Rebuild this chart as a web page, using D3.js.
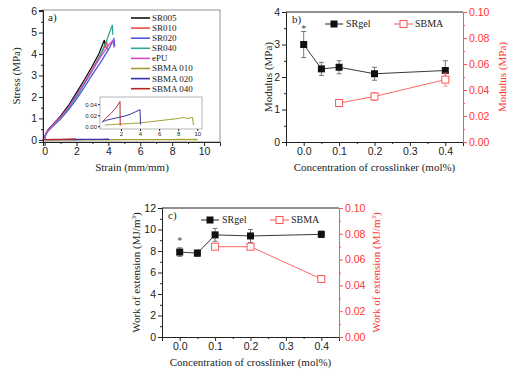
<!DOCTYPE html>
<head>
    <title>Crosslinker figure</title>
    <script src="https://cdnjs.cloudflare.com/ajax/libs/d3/7.8.5/d3.min.js"></script>
    <style>
        body { margin: 0; background: #fff; }
        svg { font-family: "Liberation Serif", "Times New Roman", serif; }
        .axis text { font-size: 10.5px; fill: #222; }
        .axis path, .axis line { stroke: #222; }
        .axis.red text { fill: #f33; }
        .axis.red path, .axis.red line { stroke: #f55; }
        .inset text { font-size: 6px; }
        .title { font-size: 11px; fill: #222; }
    </style>
</head>
<body>
<div id="chart"></div>
<script type="text/javascript">
    // ---- panel a: stress-strain curves, [strain, stress]
    const curveNames = ["SR005", "SR010", "SR020", "SR040", "ePU", "SBMA 010", "SBMA 020", "SBMA 040"];
    const curveColors = ["#111111", "#f04848", "#4a5ad8", "#2fa898", "#d048c8", "#a0a030", "#3434a8", "#b82828"];
    const sr005 = [[0,0],[0.05,0.25],[0.2,0.45],[0.5,0.7],[1,1.1],[1.5,1.6],[2,2.2],[2.5,2.8],[3,3.45],[3.4,4.0],[3.75,4.65],[3.8,4.3]];
    const sr010 = [[0,0],[0.05,0.22],[0.2,0.42],[0.5,0.66],[1,1.03],[1.5,1.5],[2,2.05],[2.5,2.65],[3,3.3],[3.5,3.95],[3.9,4.55],[3.95,4.2]];
    const sr020 = [[0,0],[0.05,0.2],[0.2,0.4],[0.5,0.62],[1,0.97],[1.5,1.4],[2,1.9],[2.5,2.45],[3,3.05],[3.5,3.6],[4,4.2],[4.35,4.7],[4.4,4.35]];
    const sr040 = [[0,0],[0.05,0.21],[0.2,0.41],[0.5,0.64],[1,1.0],[1.5,1.45],[2,2.0],[2.5,2.6],[3,3.25],[3.5,3.95],[3.9,4.65],[4.25,5.35],[4.28,4.9]];
    const ePU   = [[0,0],[0.05,0.23],[0.2,0.43],[0.5,0.67],[1,1.05],[1.5,1.52],[2,2.08],[2.5,2.65],[3,3.25],[3.5,3.85],[4,4.4],[4.3,4.65],[4.35,4.3]];
    const sbma010 = [[0,0],[0.3,0.002],[1,0.003],[2,0.004],[3,0.005],[4,0.006],[5,0.008],[6,0.010],[7,0.012],[8,0.014],[8.6,0.016],[8.9,0.014],[9.5,0.016],[9.6,0.002]];
    const sbma020 = [[0,0],[0.05,0.007],[0.2,0.009],[0.5,0.011],[1,0.013],[1.5,0.015],[2,0.017],[2.5,0.019],[3,0.022],[3.5,0.026],[4,0.030],[4.05,0.003]];
    const sbma040 = [[0,0],[0.05,0.008],[0.2,0.011],[0.5,0.016],[1,0.024],[1.5,0.034],[1.9,0.045],[1.92,0.001]];
    const curves = [sr005, sr010, sr020, sr040, ePU, sbma010, sbma020, sbma040];

    // ---- panels b and c
    const conc = [0, 0.05, 0.1, 0.2, 0.4];
    const concSBMA = [0.1, 0.2, 0.4];
    const modulusSR = [3.0, 2.25, 2.3, 2.1, 2.2];
    const modulusSRErr = [0.4, 0.2, 0.2, 0.2, 0.3];
    const modulusSBMA = [0.030, 0.035, 0.048];
    const modulusSBMAErr = [0.001, 0.003, 0.005];
    const workSR = [7.9, 7.8, 9.5, 9.4, 9.55];
    const workSRErr = [0.4, 0.3, 0.6, 0.6, 0.3];
    const workSBMA = [0.070, 0.070, 0.045];
    const workSBMAErr = [0.001, 0.002, 0.001];

    // tick labels
    const strainTicks = [0, 2, 4, 6, 8, 10];
    const stressTicks = [0, 1, 2, 3, 4, 5, 6];
    const insetXTicks = [2, 4, 6, 8, 10];
    const insetYTicks = [0, 0.02, 0.04];
    const concTicks = [0, 0.1, 0.2, 0.3, 0.4];
    const modulusTicks = [0, 1, 2, 3, 4];
    const workTicks = [0, 2, 4, 6, 8, 10, 12];
    const rightTicks = [0, 0.02, 0.04, 0.06, 0.08, 0.10];

    const red = "#f55";
    const svg = d3.select("#chart").append("svg")
        .attr("width", 516)
        .attr("height", 374);

    function axisPair(g, axisFn, scale, major, minor, fmt, size, cls, tr) {
        const a = g.append("g").attr("class", "axis " + cls).attr("transform", tr)
            .call(axisFn(scale).tickValues(major).tickSize(size).tickPadding(2).tickFormat(fmt));
        g.append("g").attr("class", "axis " + cls).attr("transform", tr)
            .call(axisFn(scale).tickValues(minor).tickSize(size / 2).tickFormat(""))
            .select(".domain").remove();
        return a;
    }

    // ================= panel a =================
    const ax = d3.scaleLinear().domain([-0.1, 11]).range([43, 220]);
    const ay = d3.scaleLinear().domain([-0.1, 6.05]).range([142, 10]);
    const ga = svg.append("g");
    const line = (xs, ys) => d3.line().x(d => xs(d[0])).y(d => ys(d[1]));

    ga.append("rect").attr("x", 43).attr("y", 10).attr("width", 177).attr("height", 132)
        .attr("fill", "none").attr("stroke", "#777").attr("stroke-width", 0.8);
    axisPair(ga, d3.axisBottom, ax, strainTicks, d3.range(1, 11, 2), d3.format("d"), 4, "", "translate(0,142)");
    axisPair(ga, d3.axisLeft, ay, stressTicks, d3.range(0.5, 6, 1), d3.format("d"), 4, "", "translate(43,0)");

    ga.selectAll("path.curve").data(curves).enter().append("path")
        .attr("class", "curve")
        .attr("d", d => line(ax, ay)(d))
        .attr("fill", "none")
        .attr("stroke", (d, i) => curveColors[i])
        .attr("stroke-width", 1.3);

    ga.append("text").attr("x", 48).attr("y", 21).attr("class", "title").text("a)");
    ga.append("text").attr("class", "title").attr("transform", "translate(20,76) rotate(-90)")
        .attr("text-anchor", "middle").text("Stress (MPa)");
    ga.append("text").attr("class", "title").attr("x", 132).attr("y", 171)
        .attr("text-anchor", "middle").text("Strain (mm/mm)");

    const legA = ga.selectAll("g.leg").data(curveNames).enter().append("g")
        .attr("transform", (d, i) => "translate(131," + (18 + i * 10.1) + ")");
    legA.append("line").attr("x1", 0).attr("x2", 19)
        .attr("stroke", (d, i) => curveColors[i]).attr("stroke-width", 1.6);
    legA.append("text").attr("x", 21).attr("dy", "0.33em")
        .style("font-size", "9px").attr("fill", "#222").text(d => d);

    // inset
    const ix = d3.scaleLinear().domain([-0.2, 10.5]).range([100, 202]);
    const iy = d3.scaleLinear().domain([-0.005, 0.053]).range([129, 97]);
    const gi = ga.append("g").attr("class", "inset");
    gi.append("rect").attr("x", 100).attr("y", 97).attr("width", 102).attr("height", 32)
        .attr("fill", "#fff").attr("stroke", "#999").attr("stroke-width", 0.7);
    svg.append("clipPath").attr("id", "insetclip").append("rect")
        .attr("x", 100).attr("y", 97).attr("width", 102).attr("height", 32);
    gi.append("g").attr("class", "axis inset").attr("transform", "translate(0,129)")
        .call(d3.axisBottom(ix).tickValues(insetXTicks).tickSize(2).tickPadding(1).tickFormat(d3.format("d")))
        .call(g => g.select(".domain").remove());
    gi.append("g").attr("class", "axis inset").attr("transform", "translate(100,0)")
        .call(d3.axisLeft(iy).tickValues(insetYTicks).tickSize(2).tickPadding(1).tickFormat(d3.format(".2f")))
        .call(g => g.select(".domain").remove());
    gi.selectAll("path.ic").data(curves.slice(5)).enter().append("path")
        .attr("class", "ic")
        .attr("clip-path", "url(#insetclip)")
        .attr("d", d => line(ix, iy)(d.slice(1)))
        .attr("fill", "none")
        .attr("stroke", (d, i) => curveColors[i + 5])
        .attr("stroke-width", 1);
    gi.selectAll(".axis text").style("font-size", "6px");

    // ================= panels b, c =================
    function dualPanel(opt) {
        const g = svg.append("g");
        const x = d3.scaleLinear().domain([-0.05, 0.45]).range([opt.x0, opt.x1]);
        const yl = d3.scaleLinear().domain(opt.leftDomain).range([opt.y1, opt.y0]);
        const yr = d3.scaleLinear().domain([0, 0.1]).range([opt.y1, opt.y0]);

        g.append("line").attr("x1", opt.x0).attr("x2", opt.x1).attr("y1", opt.y0).attr("y2", opt.y0)
            .attr("stroke", "#222");
        axisPair(g, d3.axisBottom, x, concTicks, [-0.05, 0.05, 0.15, 0.25, 0.35, 0.45], d3.format(".1f"), 4, "", "translate(0," + opt.y1 + ")");
        axisPair(g, d3.axisLeft, yl, opt.leftTicks, opt.leftMinor, d3.format("d"), 4, "", "translate(" + opt.x0 + ",0)");
        axisPair(g, d3.axisRight, yr, rightTicks, d3.range(0.01, 0.1, 0.02), d3.format(".2f"), 4, "red", "translate(" + opt.x1 + ",0)");

        // SRgel
        const sr = conc.map((c, i) => [c, opt.sr[i], opt.srErr[i]]);
        g.append("path").datum(sr)
            .attr("d", d3.line().x(d => x(d[0])).y(d => yl(d[1])))
            .attr("fill", "none").attr("stroke", "#222").attr("stroke-width", 0.9);
        const eb = g.selectAll("g.eb").data(sr).enter().append("g").attr("stroke", "#555").attr("stroke-width", 0.8);
        eb.append("line").attr("x1", d => x(d[0])).attr("x2", d => x(d[0]))
            .attr("y1", d => yl(d[1] - d[2])).attr("y2", d => yl(d[1] + d[2]));
        eb.append("line").attr("x1", d => x(d[0]) - 2.5).attr("x2", d => x(d[0]) + 2.5)
            .attr("y1", d => yl(d[1] + d[2])).attr("y2", d => yl(d[1] + d[2]));
        eb.append("line").attr("x1", d => x(d[0]) - 2.5).attr("x2", d => x(d[0]) + 2.5)
            .attr("y1", d => yl(d[1] - d[2])).attr("y2", d => yl(d[1] - d[2]));
        g.selectAll("rect.sr").data(sr).enter().append("rect")
            .attr("x", d => x(d[0]) - 3.5).attr("y", d => yl(d[1]) - 3.5)
            .attr("width", 7).attr("height", 7).attr("fill", "#111");

        // SBMA
        const sb = concSBMA.map((c, i) => [c, opt.sb[i], opt.sbErr[i]]);
        g.append("path").datum(sb)
            .attr("d", d3.line().x(d => x(d[0])).y(d => yr(d[1])))
            .attr("fill", "none").attr("stroke", red).attr("stroke-width", 0.9);
        const es = g.selectAll("g.es").data(sb).enter().append("g").attr("stroke", "#f77").attr("stroke-width", 0.8);
        es.append("line").attr("x1", d => x(d[0])).attr("x2", d => x(d[0]))
            .attr("y1", d => yr(d[1] - d[2])).attr("y2", d => yr(d[1] + d[2]));
        es.append("line").attr("x1", d => x(d[0]) - 2.5).attr("x2", d => x(d[0]) + 2.5)
            .attr("y1", d => yr(d[1] + d[2])).attr("y2", d => yr(d[1] + d[2]));
        es.append("line").attr("x1", d => x(d[0]) - 2.5).attr("x2", d => x(d[0]) + 2.5)
            .attr("y1", d => yr(d[1] - d[2])).attr("y2", d => yr(d[1] - d[2]));
        g.selectAll("rect.sb").data(sb).enter().append("rect")
            .attr("x", d => x(d[0]) - 3.5).attr("y", d => yr(d[1]) - 3.5)
            .attr("width", 7).attr("height", 7).attr("fill", "#fff").attr("stroke", red);

        // asterisk
        g.append("text").attr("x", x(0)).attr("y", yl(opt.star) + 4).attr("text-anchor", "middle")
            .style("font-size", "10px").attr("fill", "#444").text("*");

        // legend
        const lg = g.append("g").attr("transform", "translate(" + (opt.x0 + 39) + "," + (opt.y0 + 12) + ")");
        lg.append("line").attr("x1", 0).attr("x2", 18).attr("stroke", "#222");
        lg.append("rect").attr("x", 5.5).attr("y", -3.5).attr("width", 7).attr("height", 7).attr("fill", "#111");
        lg.append("text").attr("x", 21).attr("dy", "0.33em").attr("class", "title").style("font-size", "10px").text("SRgel");
        lg.append("line").attr("x1", 69).attr("x2", 88).attr("stroke", red);
        lg.append("rect").attr("x", 75).attr("y", -3.5).attr("width", 7).attr("height", 7).attr("fill", "#fff").attr("stroke", red);
        lg.append("text").attr("x", 90).attr("dy", "0.33em").attr("class", "title").style("font-size", "10px").text("SBMA");

        g.append("text").attr("class", "title").attr("x", opt.x0 + 6).attr("y", opt.y0 + 11).text(opt.tag);
        g.append("text").attr("class", "title").attr("x", (opt.x0 + opt.x1) / 2).attr("y", opt.y1 + 29)
            .attr("text-anchor", "middle").text("Concentration of crosslinker (mol%)");
        g.append("text").attr("class", "title")
            .attr("transform", "translate(" + opt.leftTitleX + "," + (opt.y0 + opt.y1) / 2 + ") rotate(-90)")
            .attr("text-anchor", "middle").html(opt.leftTitle);
        g.append("text").attr("class", "title").attr("fill", "#f33").style("fill", "#f33")
            .attr("transform", "translate(" + opt.rightTitleX + "," + (opt.y0 + opt.y1) / 2 + ") rotate(-90)")
            .attr("text-anchor", "middle").html(opt.rightTitle);
    }

    dualPanel({
        x0: 286, x1: 463, y0: 12, y1: 142, tag: "b)",
        leftDomain: [0, 4], leftTicks: modulusTicks, leftMinor: d3.range(0.5, 4, 1),
        sr: modulusSR, srErr: modulusSRErr, sb: modulusSBMA, sbErr: modulusSBMAErr, star: 3.5,
        leftTitleX: 272, rightTitleX: 506,
        leftTitle: "Modulus (MPa)", rightTitle: "Modulus (MPa)"
    });
    dualPanel({
        x0: 162, x1: 339, y0: 208, y1: 337, tag: "c)",
        leftDomain: [0, 12], leftTicks: workTicks, leftMinor: d3.range(1, 12, 2),
        sr: workSR, srErr: workSRErr, sb: workSBMA, sbErr: workSBMAErr, star: 9.0,
        leftTitleX: 140, rightTitleX: 380,
        leftTitle: "Work of extension (MJ/m<tspan baseline-shift='super' font-size='7px'>3</tspan>)",
        rightTitle: "Work of extension (MJ/m<tspan baseline-shift='super' font-size='7px'>3</tspan>)"
    });
</script>
</body>
